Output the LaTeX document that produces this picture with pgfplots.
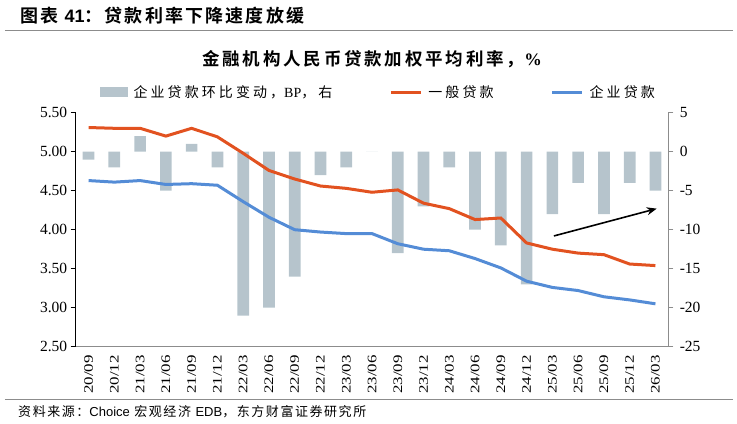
\documentclass[border=0pt]{standalone}
\usepackage{fontspec}
\usepackage{graphicx}
\usepackage{pgfplots}
\usepackage{pgfplotstable}
\pgfplotsset{compat=1.18}
\usetikzlibrary{arrows.meta}

\setmainfont{Liberation Serif}
\newfontfamily\arial{Liberation Sans}
\newfontfamily\cjkH[BoldFont={Noto Sans CJK SC Bold},LetterSpace=12]{Noto Sans CJK SC}
\newfontfamily\cjkT[BoldFont={Noto Sans CJK SC Bold},LetterSpace=16]{Noto Sans CJK SC}
\newfontfamily\cjkL[LetterSpace=22]{Noto Sans CJK SC}
\newfontfamily\cjkS[LetterSpace=12]{Noto Sans CJK SC}

\definecolor{barc}{RGB}{182,196,204}
\definecolor{orc}{RGB}{226,82,32}
\definecolor{blc}{RGB}{84,140,214}
\definecolor{axgray}{RGB}{140,140,140}

\newcommand{\xl}[1]{\scalebox{1.3}[1]{#1}}

% quarter index, enterprise-loan q/q change (bp), general loans (%), enterprise loans (%)
\pgfplotstableread{
i  bp   gen   ent
0  -1   5.31  4.63
1  -2   5.30  4.61
2   2   5.30  4.63
3  -5   5.20  4.58
4   1   5.30  4.59
5  -2   5.19  4.57
6  -21  4.98  4.36
7  -20  4.76  4.16
8  -16  4.65  4.00
9  -3   4.56  3.97
10 -2   4.53  3.95
11  0   4.48  3.95
12 -13  4.51  3.82
13 -7   4.34  3.75
14 -2   4.27  3.73
15 -10  4.13  3.63
16 -12  4.15  3.51
17 -17  3.83  3.34
18 -8   3.75  3.26
19 -4   3.70  3.22
20 -8   3.68  3.14
21 -4   3.56  3.10
22 -5   3.54  3.05
}\ratedata

\begin{document}
\begin{tikzpicture}[x=1bp,y=1bp]
% page frame, header and footer, in page units measured from the top-left corner
\begin{scope}[shift={(-75.7,346.7)}]
\useasboundingbox (0,0) rectangle (737,-423);
\node[anchor=base west, inner sep=0] at (20,-22.5)
  {\cjkH\bfseries\fontsize{18bp}{18bp}\selectfont 图表 {\arial\bfseries 41}：贷款利率下降速度放缓};
\draw[axgray, line width=1.2bp] (5,-30.5) -- (733,-30.5);
\node[anchor=base, inner sep=0] at (372,-65)
  {\cjkT\bfseries\fontsize{17.5bp}{18bp}\selectfont 金融机构人民币贷款加权平均利率，{\rmfamily\bfseries\%}};
\draw[axgray, line width=1.2bp] (5,-399.5) -- (733,-399.5);
\node[anchor=base west, inner sep=0] at (18,-416)
  {\cjkS\fontsize{13bp}{13bp}\selectfont 资料来源：{\arial Choice} 宏观经济 {\arial EDB}，东方财富证券研究所};
\end{scope}

% bars on the right axis
\begin{axis}[
  at={(0,0)}, anchor=south west,
  scale only axis, width=592.6bp, height=234bp,
  xmin=-0.5, xmax=22.5, ymin=-25, ymax=5,
  axis x line=none, axis y line*=right,
  ytick={-25,-20,...,5},
  y axis line style={axgray, line width=0.9bp},
  ytick style={axgray, line width=0.9bp},
  tick align=outside, major tick length=5bp,
  /pgf/number format/assume math mode=true,
  yticklabel style={font=\fontsize{15.5bp}{16bp}\selectfont, xshift=3bp},
  ybar, bar width=11.7bp,
]
\addplot[fill=barc, draw=none] table[x=i, y=bp] {\ratedata};
\draw[line width=1.6bp, -{Stealth[length=10bp,width=8bp]}]
  (axis cs:18.06,-10.8) -- (axis cs:22.05,-7.3);
\end{axis}

% rate lines on the left axis
\begin{axis}[
  at={(0,0)}, anchor=south west,
  scale only axis, width=592.6bp, height=234bp,
  xmin=-0.5, xmax=22.5, ymin=2.5, ymax=5.5,
  axis x line*=bottom, axis y line*=left,
  x axis line style={axgray, line width=0.9bp},
  y axis line style={black, line width=0.9bp},
  ytick={2.5,3,...,5.5},
  ytick style={black, line width=0.9bp},
  xtick={0,...,22},
  xtick style={draw=none},
  minor xtick={-0.5,0.5,...,22.5},
  every minor tick/.append style={axgray, line width=0.9bp},
  minor tick length=5bp,
  tick align=outside, major tick length=5bp,
  /pgf/number format/assume math mode=true,
  yticklabel style={font=\fontsize{15.5bp}{16bp}\selectfont,
    /pgf/number format/.cd, fixed, fixed zerofill, precision=2},
  xticklabel style={rotate=90, anchor=east, font=\fontsize{13bp}{13bp}\selectfont},
  xticklabels={\xl{20/09},\xl{20/12},\xl{21/03},\xl{21/06},\xl{21/09},\xl{21/12},
    \xl{22/03},\xl{22/06},\xl{22/09},\xl{22/12},\xl{23/03},\xl{23/06},\xl{23/09},
    \xl{23/12},\xl{24/03},\xl{24/06},\xl{24/09},\xl{24/12},\xl{25/03},\xl{25/06},
    \xl{25/09},\xl{25/12},\xl{26/03}},
  legend style={at={(axis description cs:0.511,1.088)}, anchor=center,
    draw=none, fill=none, legend columns=3, inner sep=0pt,
    font=\cjkL\fontsize{14bp}{14bp}\selectfont,
    /tikz/every odd column/.append style={column sep=4bp},
    /tikz/every even column/.append style={column sep=55bp}},
  legend image code/.code={\draw[#1] (0bp,0bp) -- (30bp,0bp);},
]
\addlegendimage{legend image code/.code={\fill[barc] (0bp,-4.5bp) rectangle (27bp,4.5bp);}}
\addlegendentry{企业贷款环比变动，{\rmfamily BP}，右}
\addplot[orc, line width=3bp] table[x=i, y=gen] {\ratedata};
\addlegendentry{一般贷款}
\addplot[blc, line width=3bp] table[x=i, y=ent] {\ratedata};
\addlegendentry{企业贷款}
\end{axis}
\end{tikzpicture}
\end{document}
